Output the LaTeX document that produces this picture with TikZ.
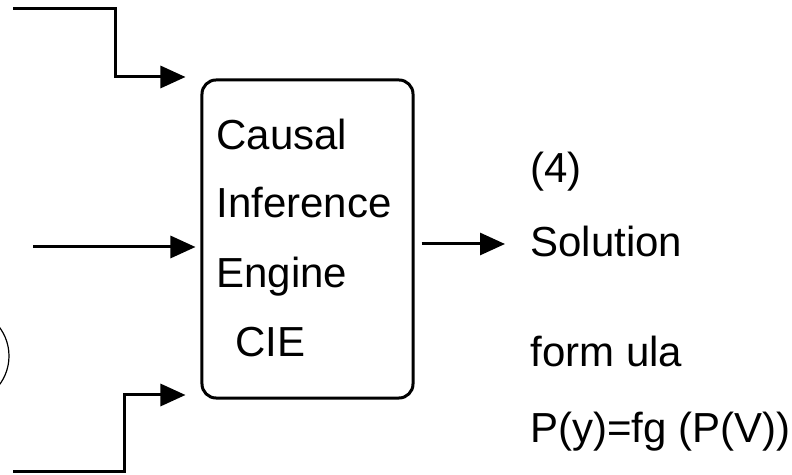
\documentclass[tikz,border=0pt]{standalone}
\usepackage{fontspec}
\setmainfont{Liberation Sans}
\usetikzlibrary{arrows.meta,positioning}

\begin{document}
\begin{tikzpicture}[x=0.5bp, y=-0.5bp, font=\fontsize{21bp}{25bp}\selectfont]

        % Styles
        \tikzstyle{line} = [line width=1.5bp]
        \tikzstyle{arrow} = [line, -{Triangle[length=12.5bp, width=11bp]}]
        \tikzstyle{txt} = [anchor=base west, inner sep=0pt]

        \useasboundingbox (0,0) rectangle (792,475);

        % Engine box
        \node[line, draw, rounded corners=7bp, minimum width=105.5bp, minimum height=159bp,
              inner sep=0pt] (cie) at (307.5,239) {};
        \node[txt] (causal) at (216,150) {Causal};
        \node[txt] (inference) at (216,218) {Inference};
        \node[txt] (engine) at (216,288) {Engine};
        \node[txt] (abbr) at (235,357) {CIE};

        % Cut-off source at the left edge
        \node[draw, line width=0.6bp, circle, minimum size=48bp, inner sep=0pt] (src) at (-39,356) {};

        % Inputs
        \coordinate (top) at (13,9);
        \coordinate (mid) at (33,247);
        \coordinate (bot) at (13,472);
        \draw[arrow] (top) -| (115,77) -- ([xshift=-7.5bp]cie.west |- 0,77);
        \draw[arrow] (mid) -- ([xshift=-2.5bp]cie.west |- mid);
        \draw[arrow] (bot) -| (124,395) -- ([xshift=-7.5bp]cie.west |- 0,395);

        % Output
        \node[txt] (num) at (530,183) {(4)};
        \node[txt] (solution) at (530,257) {Solution};
        \node[txt] (formula) at (530,367) {form ula};
        \node[txt] (expr) at (530,443) {P(y)=fg (P(V))};
        \draw[arrow] ([xshift=3.5bp]cie.east |- 0,244) -- ([xshift=-12.5bp]solution.west |- 0,244);

\end{tikzpicture}
\end{document}
